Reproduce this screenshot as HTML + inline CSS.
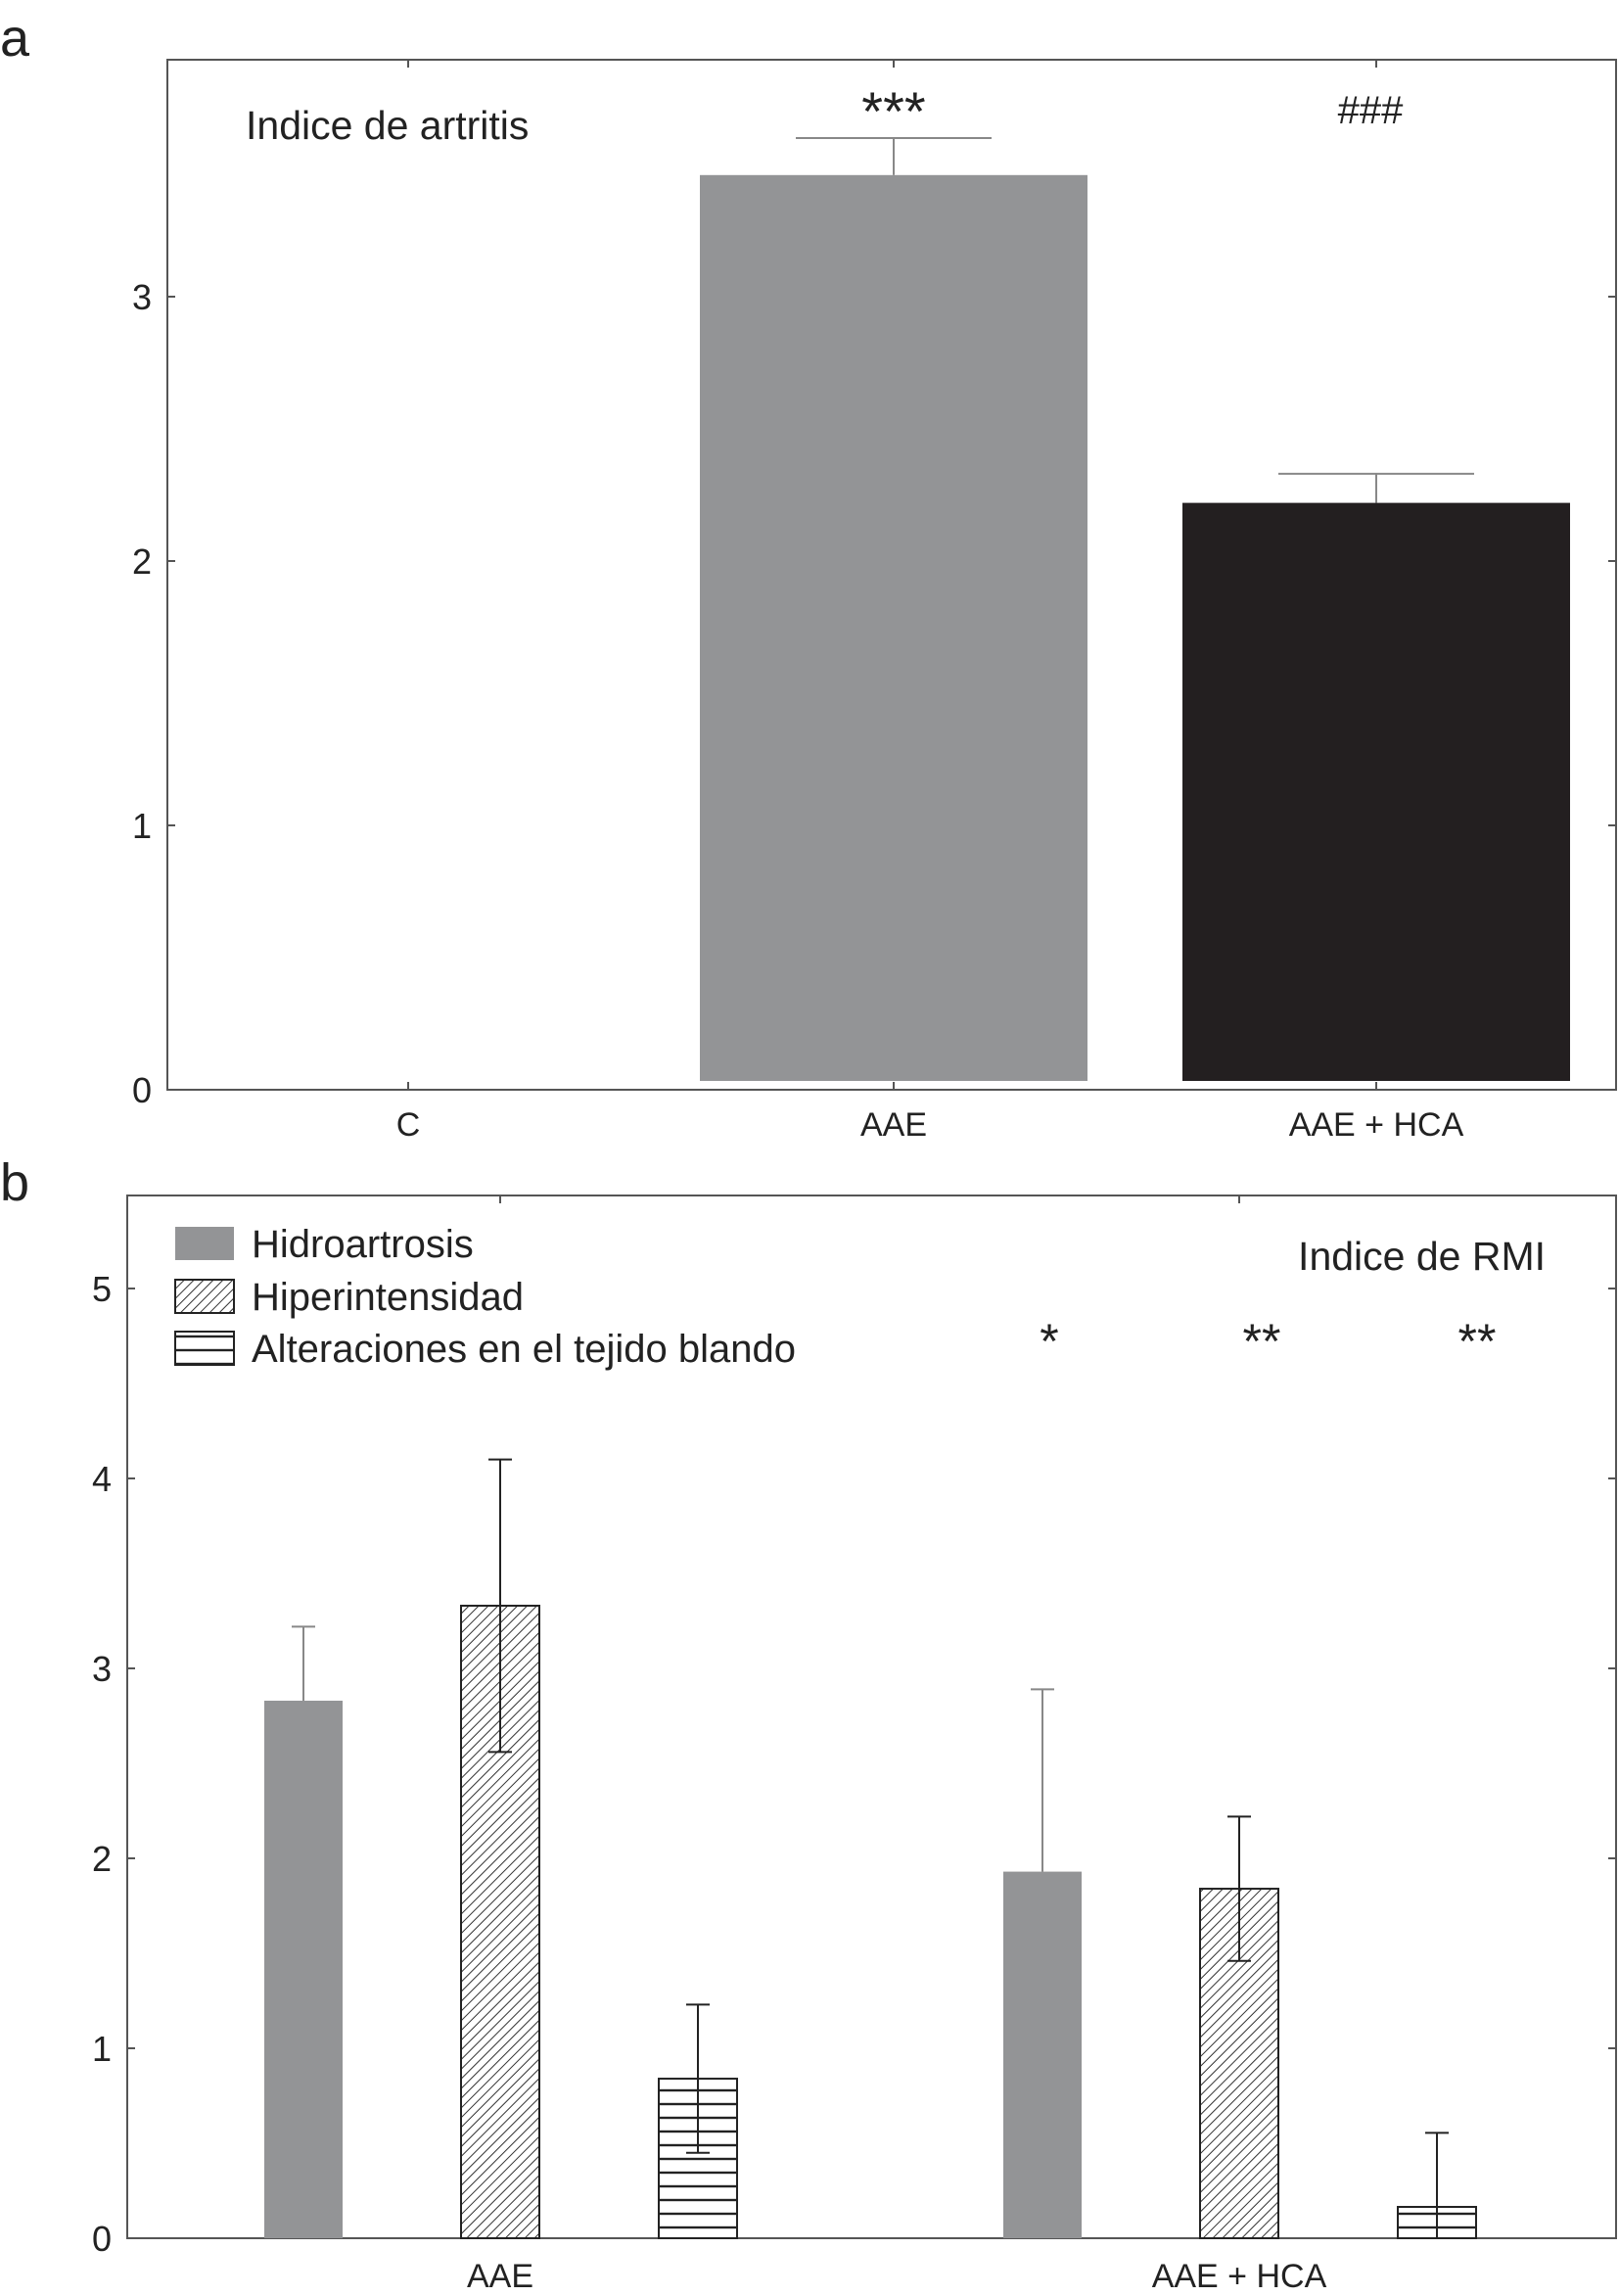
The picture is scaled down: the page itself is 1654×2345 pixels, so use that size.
<!DOCTYPE html>
<html><head><meta charset="utf-8"><style>
html,body{margin:0;padding:0;background:#fff}
svg{display:block;font-family:"Liberation Sans",sans-serif}
</style></head><body>
<svg id="c" width="1654" height="2345" viewBox="0 0 1654 2345" xmlns="http://www.w3.org/2000/svg">
<defs>
<pattern id="diag" patternUnits="userSpaceOnUse" width="7" height="7" patternTransform="rotate(45)">
<rect width="7" height="7" fill="#fff"/><line x1="0" y1="0" x2="0" y2="7" stroke="#333" stroke-width="2"/></pattern>
<pattern id="horiz" patternUnits="userSpaceOnUse" width="10" height="14">
<rect width="10" height="14" fill="#fff"/><line x1="0" y1="7" x2="10" y2="7" stroke="#222" stroke-width="2.4"/></pattern>
</defs>
</svg>
<script>
// Panel a data
const catsA = ["C","AAE","AAE + HCA"];
const valsA = [0, 3.46, 2.22];
const errA = [0, 0.14, 0.11];
const ticksA = [0,1,2,3];
const signifA = ["", "***", "###"];
// Panel b data
const groupsB = ["AAE","AAE + HCA"];
const seriesB = ["Hidroartrosis","Hiperintensidad","Alteraciones en el tejido blando"];
const hidro = [2.83, 1.93];
const hiper = [3.33, 1.84];
const alter = [0.84, 0.165];
const hidroErr = [0.39, 0.96];
const hiperErr = [0.77, 0.38];
const alterErr = [0.39, 0.39];
const ticksB = [0,1,2,3,4,5];
const signifB = ["*","**","**"];

const svg = document.getElementById('c');
const NS = "http://www.w3.org/2000/svg";
function mk(tag, attrs, text){
  const e = document.createElementNS(NS, tag);
  for (const k in attrs) e.setAttribute(k, attrs[k]);
  if (text !== undefined) e.textContent = text;
  svg.appendChild(e);
  return e;
}

// ---------- Panel a ----------
const aL=171, aR=1651, aT=61, aB=1113;
const yA = v => aB - v*270;
const xCatA = [417, 913, 1406];
const bwA = 396;
let t = mk('text',{x:0,y:57,'font-size':54,fill:'#222'},'a');
 
let r = mk('rect',{x:aL,y:aT,width:aR-aL,height:aB-aT,fill:'none',stroke:'#555','stroke-width':2});
 
ticksA.forEach(v=>{
  const y=yA(v);
  let l=mk('line',{x1:aL,x2:aL+8,y1:y,y2:y,stroke:'#555','stroke-width':2});
   
  mk('line',{x1:aR-8,x2:aR,y1:y,y2:y,stroke:'#555','stroke-width':2});
  let tx=mk('text',{x:155,y:y+13,'font-size':36,'text-anchor':'end',fill:'#222'},String(v));
   
});
const colA=['#939496','#939496','#231f20'];
catsA.forEach((c,i)=>{
  const x=xCatA[i];
  mk('line',{x1:x,x2:x,y1:aT,y2:aT+8,stroke:'#555','stroke-width':2});
  mk('line',{x1:x,x2:x,y1:aB-8,y2:aB,stroke:'#555','stroke-width':2});
  let tx=mk('text',{x:x,y:1160,'font-size':34,'text-anchor':'middle',fill:'#222'},c);
   
  if(valsA[i]>0){
    const top=yA(valsA[i]), et=yA(valsA[i]+errA[i]);
    let l=mk('line',{x1:x,x2:x,y1:et,y2:top,stroke:'#888','stroke-width':2});
     
    mk('line',{x1:x-100,x2:x+100,y1:et,y2:et,stroke:'#888','stroke-width':2});
    let b=mk('rect',{x:x-bwA/2,y:top,width:bwA,height:aB-top-9,fill:colA[i]});
     
  }
  if(signifA[i]){
    let s=i==1
      ? mk('text',{x:x,y:133,'font-size':56,'text-anchor':'middle',fill:'#222'},signifA[i])
      : mk('text',{x:x-6,y:126,'font-size':40,'text-anchor':'middle',fill:'#222'},signifA[i]);
     
  }
});
t=mk('text',{x:251,y:142,'font-size':41,fill:'#222'},'Indice de artritis');
 

// ---------- Panel b ----------
const bL=130, bR=1651, bT=1221, bB=2286;
const yB = v => bB - v*194;
const xGroup=[511,1266];
const offs=[-201,0,202];
const starX=[1072,1289,1509];
const bwB=80;
t=mk('text',{x:0,y:1226,'font-size':54,fill:'#222'},'b');
 
r=mk('rect',{x:bL,y:bT,width:bR-bL,height:bB-bT,fill:'none',stroke:'#555','stroke-width':2});
 
ticksB.forEach(v=>{
  const y=yB(v);
  let l=mk('line',{x1:bL,x2:bL+8,y1:y,y2:y,stroke:'#555','stroke-width':2});
   
  mk('line',{x1:bR-8,x2:bR,y1:y,y2:y,stroke:'#555','stroke-width':2});
  let tx=mk('text',{x:114,y:y+13,'font-size':36,'text-anchor':'end',fill:'#222'},String(v));
   
});
const vals=[hidro,hiper,alter], errs=[hidroErr,hiperErr,alterErr];
const fills=['#939496','url(#diag)','url(#horiz)'];
const names=['hidroartrosis','hiperintensidad','alteraciones'];
groupsB.forEach((g,gi)=>{
  const gx=xGroup[gi];
  mk('line',{x1:gx,x2:gx,y1:bT,y2:bT+8,stroke:'#555','stroke-width':2});
  mk('line',{x1:gx,x2:gx,y1:bB-8,y2:bB,stroke:'#555','stroke-width':2});
  let tx=mk('text',{x:gx,y:2336,'font-size':34,'text-anchor':'middle',fill:'#222'},g);
   
  for(let s=0;s<3;s++){
    const x=gx+offs[s], v=vals[s][gi], e=errs[s][gi];
    const top=yB(v);
    let b=mk('rect',{x:x-bwB/2,y:top,width:bwB,height:bB-top,fill:fills[s],stroke:s?'#222':'none','stroke-width':2});
     
    const ec=s?'#222':'#888';
    const lowV=v-e;
    const et=yB(v+e), eb=s?yB(Math.max(0,lowV)):top;
    let l=mk('line',{x1:x,x2:x,y1:et,y2:eb,stroke:ec,'stroke-width':2});
     
    mk('line',{x1:x-12,x2:x+12,y1:et,y2:et,stroke:ec,'stroke-width':2});
    if(s && lowV>0) mk('line',{x1:x-12,x2:x+12,y1:eb,y2:eb,stroke:ec,'stroke-width':2});
  }
});
signifB.forEach((s,i)=>{
  let st=mk('text',{x:starX[i],y:1387,'font-size':50,'text-anchor':'middle',fill:'#222'},s);
   
});
t=mk('text',{x:1579,y:1297,'font-size':41,'text-anchor':'end',fill:'#222'},'Indice de RMI');
 
const legY=[1253,1307,1360];
seriesB.forEach((n,i)=>{
  let sw=mk('rect',{x:179,y:legY[i],width:60,height:34,fill:fills[i],stroke:i?'#222':'none','stroke-width':2});
   
  let lt=mk('text',{x:257,y:legY[i]+31,'font-size':40,fill:'#222'},n);
   
});
</script>
</body></html>
